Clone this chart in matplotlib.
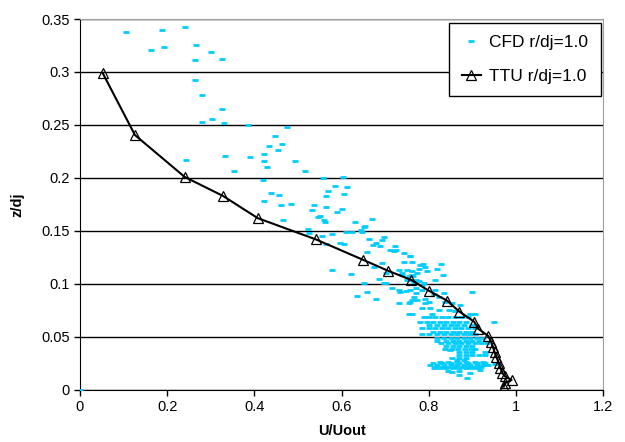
import matplotlib.pyplot as plt

plt.rcParams["font.family"] = ["Liberation Sans", "DejaVu Sans"]

# TTU r/dj=1.0 measured profile
ttu_u = [0.052, 0.126, 0.240, 0.328, 0.408, 0.541, 0.650, 0.706, 0.760, 0.800,
         0.842, 0.870, 0.904, 0.914, 0.936, 0.943, 0.947, 0.951, 0.955, 0.960,
         0.964, 0.969, 0.974, 0.990, 0.975, 0.972]
ttu_z = [0.299, 0.2405, 0.201, 0.183, 0.162, 0.142, 0.1226, 0.1125, 0.1037, 0.0936,
         0.0842, 0.0739, 0.0644, 0.0575, 0.0510, 0.0456, 0.0408, 0.0355, 0.0314, 0.0258,
         0.0210, 0.0160, 0.0130, 0.0094, 0.0063, 0.0031]

# CFD r/dj=1.0, sparse upper part
cfd_u_sparse = [0.0, 0.105, 0.187, 0.242, 0.164, 0.193, 0.265, 0.301, 0.264, 0.325,
                0.263, 0.280, 0.325, 0.279, 0.302, 0.331, 0.386, 0.475, 0.448, 0.434,
                0.463, 0.455, 0.244, 0.333, 0.389, 0.421, 0.423, 0.494, 0.430, 0.354,
                0.517, 0.420, 0.557, 0.437, 0.456, 0.568, 0.565, 0.584, 0.603, 0.613,
                0.605, 0.422, 0.485, 0.461, 0.537, 0.565, 0.602, 0.532, 0.589, 0.545,
                0.551, 0.560, 0.562, 0.465, 0.631, 0.669, 0.654, 0.651, 0.522, 0.526,
                0.610, 0.623, 0.644, 0.646, 0.579, 0.555, 0.663, 0.697, 0.693, 0.596,
                0.606, 0.678, 0.672, 0.688, 0.564, 0.722, 0.726, 0.712, 0.720, 0.659,
                0.743, 0.757, 0.762, 0.579, 0.621, 0.651, 0.636, 0.659, 0.678, 0.697,
                0.701, 0.686, 0.701, 0.693, 0.674, 0.716, 0.735, 0.770, 0.779, 0.792,
                0.796, 0.827, 0.833, 0.815, 0.785, 0.750, 0.739, 0.762, 0.770, 0.749,
                0.815, 0.834, 0.758, 0.786, 0.819, 0.777, 0.762, 0.773, 0.763, 0.756,
                0.766, 0.777, 0.789, 0.899, 0.771, 0.785, 0.758, 0.811, 0.823, 0.766,
                0.773, 0.758, 0.792, 0.800, 0.792, 0.838, 0.853, 0.872, 0.785, 0.804,
                0.823, 0.846, 0.861, 0.895, 0.907, 0.762, 0.808, 0.743, 0.731, 0.739,
                0.754, 0.731, 0.747, 0.731, 0.754, 0.762, 0.754, 0.949, 0.849, 0.918,
                0.952, 0.853, 0.895, 0.869, 0.888]
cfd_z_sparse = [0.0, 0.338, 0.340, 0.342, 0.321, 0.324, 0.325, 0.319, 0.311, 0.312,
                0.292, 0.278, 0.265, 0.253, 0.256, 0.252, 0.250, 0.248, 0.240, 0.230,
                0.232, 0.226, 0.217, 0.221, 0.220, 0.223, 0.216, 0.216, 0.210, 0.207,
                0.207, 0.198, 0.200, 0.186, 0.184, 0.188, 0.183, 0.192, 0.201, 0.191,
                0.185, 0.178, 0.175, 0.174, 0.174, 0.173, 0.171, 0.170, 0.168, 0.163,
                0.164, 0.160, 0.158, 0.160, 0.158, 0.161, 0.155, 0.154, 0.152, 0.148,
                0.149, 0.149, 0.151, 0.149, 0.147, 0.145, 0.142, 0.144, 0.141, 0.139,
                0.138, 0.139, 0.137, 0.136, 0.138, 0.136, 0.132, 0.132, 0.131, 0.130,
                0.129, 0.126, 0.121, 0.113, 0.109, 0.101, 0.089, 0.092, 0.086, 0.101,
                0.101, 0.105, 0.110, 0.120, 0.116, 0.096, 0.092, 0.091, 0.118, 0.116,
                0.112, 0.119, 0.108, 0.104, 0.099, 0.113, 0.110, 0.108, 0.104, 0.104,
                0.094, 0.091, 0.126, 0.119, 0.114, 0.114, 0.112, 0.110, 0.107, 0.104,
                0.102, 0.103, 0.101, 0.092, 0.096, 0.094, 0.094, 0.090, 0.088, 0.088,
                0.085, 0.083, 0.086, 0.083, 0.082, 0.083, 0.082, 0.080, 0.077, 0.077,
                0.075, 0.075, 0.074, 0.072, 0.072, 0.072, 0.072, 0.121, 0.113, 0.108,
                0.107, 0.094, 0.093, 0.082, 0.082, 0.085, 0.072, 0.064, 0.038, 0.019,
                0.024, 0.0173, 0.016, 0.014, 0.011]

# CFD dense near-wall cluster, read row by row
cfd_rows = {
    0.069: [0.79, 0.80, 0.815, 0.83, 0.845, 0.86, 0.875, 0.89],
    0.064: [0.78, 0.795, 0.81, 0.825, 0.84, 0.855, 0.87, 0.885],
    0.061: [0.80, 0.82, 0.835, 0.85, 0.865, 0.88, 0.90],
    0.058: [0.785, 0.80, 0.815, 0.83, 0.845, 0.86, 0.875, 0.89, 0.905],
    0.055: [0.81, 0.825, 0.84, 0.855, 0.87, 0.885, 0.90],
    0.053: [0.785, 0.80, 0.82, 0.835, 0.85, 0.865, 0.88, 0.895, 0.907],
    0.049: [0.818, 0.835, 0.85, 0.865, 0.88, 0.895, 0.91, 0.925],
    0.046: [0.82, 0.84, 0.855, 0.87, 0.885, 0.90, 0.915],
    0.044: [0.827, 0.845, 0.86, 0.875, 0.89, 0.905, 0.92, 0.933],
    0.041: [0.84, 0.855, 0.87, 0.885, 0.90],
    0.039: [0.838, 0.853, 0.868, 0.883, 0.898, 0.907],
    0.036: [0.87, 0.885, 0.90, 0.93],
    0.033: [0.869, 0.885, 0.90, 0.915, 0.93],
    0.030: [0.853, 0.87, 0.885],
    0.028: [0.865, 0.88],
    0.026: [0.825, 0.845, 0.865, 0.885, 0.905, 0.925],
    0.025: [0.81, 0.83, 0.85, 0.87, 0.89, 0.91, 0.93],
    0.0236: [0.804, 0.82, 0.835, 0.85, 0.865, 0.88, 0.895, 0.91, 0.925, 0.937],
    0.022: [0.815, 0.83, 0.845, 0.86, 0.875, 0.89, 0.905, 0.92],
    0.0204: [0.811, 0.825, 0.84, 0.855, 0.87, 0.885, 0.90, 0.914],
    0.018: [0.845, 0.87],
}

cfd_u = list(cfd_u_sparse)
cfd_z = list(cfd_z_sparse)
for z, us in cfd_rows.items():
    cfd_u += us
    cfd_z += [z] * len(us)

x_ticks = [0, 0.2, 0.4, 0.6, 0.8, 1, 1.2]
x_tick_labels = ["0", "0.2", "0.4", "0.6", "0.8", "1", "1.2"]
y_ticks = [0, 0.05, 0.1, 0.15, 0.2, 0.25, 0.3, 0.35]
y_tick_labels = ["0", "0.05", "0.1", "0.15", "0.2", "0.25", "0.3", "0.35"]

fig = plt.figure(figsize=(6.25, 4.42), dpi=100)
ax = fig.add_axes([0.128, 0.118, 0.837, 0.839])

ax.plot(cfd_u, cfd_z, linestyle="none", marker="_", markersize=5,
        markeredgewidth=2, color="#00CCFF", label="CFD r/dj=1.0", zorder=3)
ax.plot(ttu_u, ttu_z, color="black", linewidth=1.5, marker="^", markersize=7.5,
        markerfacecolor="none", markeredgecolor="black", markeredgewidth=0.9,
        label="TTU r/dj=1.0", zorder=4)

ax.set_xlim(0, 1.2)
ax.set_ylim(0, 0.35)
ax.set_xticks(x_ticks)
ax.set_xticklabels(x_tick_labels)
ax.set_yticks(y_ticks)
ax.set_yticklabels(y_tick_labels)
ax.tick_params(direction="out", length=4, width=1, labelsize=10.5, colors="black")

ax.yaxis.grid(True, color="black", linewidth=1)
ax.set_axisbelow(True)
for side in ["top", "right"]:
    ax.spines[side].set_color("#A0A0A0")
for side in ["left", "bottom"]:
    ax.spines[side].set_color("black")

ax.set_xlabel("U/Uout", fontsize=10.5, fontweight="bold", labelpad=7)
ax.set_ylabel("z/dj", fontsize=10.5, fontweight="bold", labelpad=12)

leg = ax.legend(loc="upper right", bbox_to_anchor=(0.995, 0.99), borderaxespad=0,
                fancybox=False, edgecolor="black", framealpha=1, fontsize=12.5,
                handlelength=1.1, labelspacing=1.1, borderpad=0.7, handletextpad=0.5)
leg.get_frame().set_linewidth(1)

fig.savefig("out.png", dpi=100)
